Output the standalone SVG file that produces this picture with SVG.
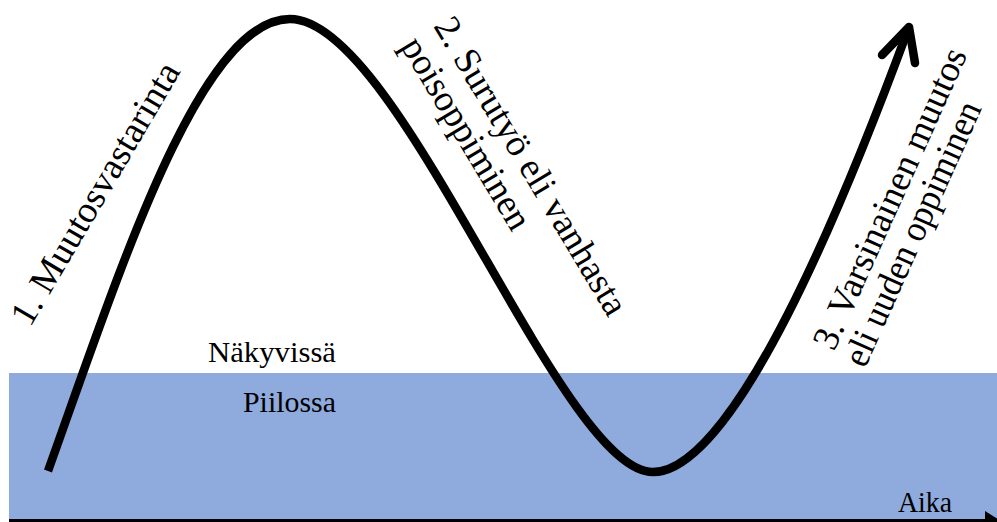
<svg xmlns="http://www.w3.org/2000/svg" width="997" height="522" viewBox="0 0 997 522">
<style>
text{font-family:"Liberation Serif","Tinos","Times New Roman","Times","Nimbus Roman","FreeSerif","Noto Serif","DejaVu Serif",serif;fill:#000}
.big{font-size:37px}
.sm{font-size:30px}
.curve{fill:none;stroke:#000;stroke-width:8.5;stroke-linejoin:round}
</style>
<rect id="piilossa-zone" x="9" y="373" width="990" height="147" fill="#8FAADC"/>
<g id="connectors">
<path class="curve" d="M48,471 C120,270 200,19 290,19 C400,19 560,472 653,472 C740,472 860,160 909,27"/>
<path class="curve" d="M882,55 L909,27 L915,63" stroke-linecap="round"/>
<line x1="9" y1="520.5" x2="988" y2="520.5" stroke="#000" stroke-width="3"/>
<polygon points="985,511 1001,521 985,531" fill="#000"/>
</g>
<g id="label-nakyvissa"><text class="sm" x="208" y="362" textLength="128" lengthAdjust="spacingAndGlyphs">Näkyvissä</text></g>
<g id="label-piilossa"><text class="sm" x="243" y="412" textLength="93" lengthAdjust="spacingAndGlyphs">Piilossa</text></g>
<g id="label-aika"><text class="sm" x="898" y="512" textLength="54" lengthAdjust="spacingAndGlyphs">Aika</text></g>
<g id="phase1"><text class="big" transform="translate(30,328) rotate(-59.5)" textLength="298" lengthAdjust="spacingAndGlyphs">1. Muutosvastarinta</text></g>
<g id="phase2">
<text class="big" transform="translate(433,26) rotate(59)" textLength="341" lengthAdjust="spacingAndGlyphs">2. Surutyö eli vanhasta</text>
<text class="big" transform="translate(400,46) rotate(59)" textLength="218" lengthAdjust="spacingAndGlyphs">poisoppiminen</text>
</g>
<g id="phase3">
<text class="big" transform="translate(834,352) rotate(-65.8)" textLength="326" lengthAdjust="spacingAndGlyphs">3. Varsinainen muutos</text>
<text class="big" transform="translate(865,369) rotate(-65.8)" textLength="286" lengthAdjust="spacingAndGlyphs">eli uuden oppiminen</text>
</g>
</svg>
